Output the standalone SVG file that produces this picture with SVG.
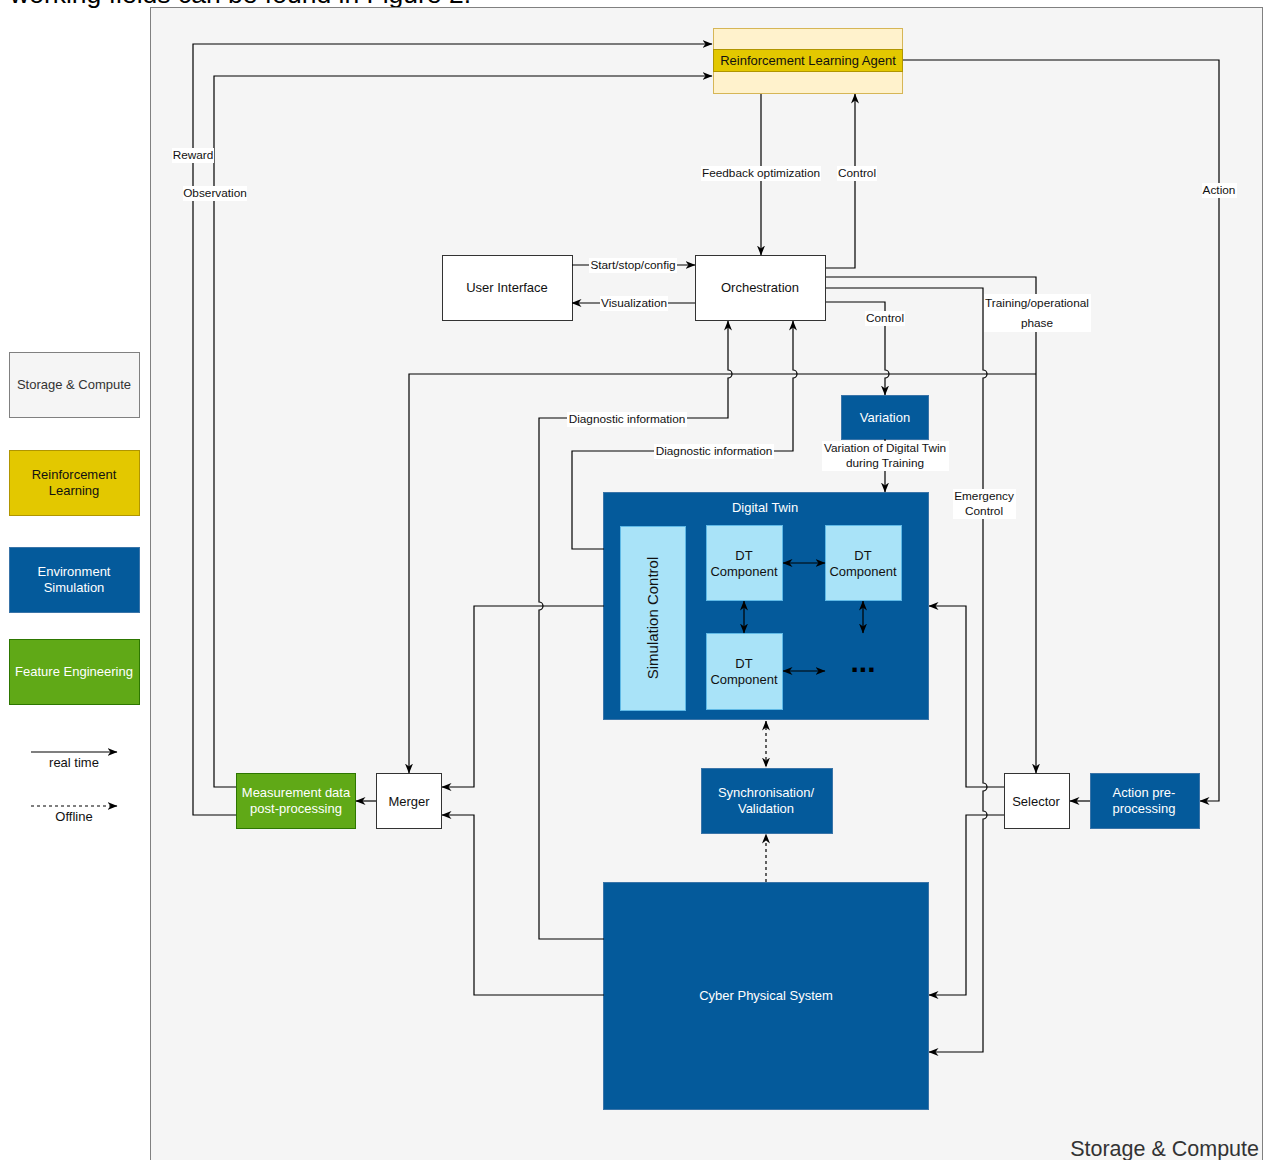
<svg xmlns="http://www.w3.org/2000/svg" width="1265" height="1160" viewBox="0 0 1265 1160">
<defs>
<style>
text{font-family:"Liberation Sans",Arial,Helvetica,sans-serif;text-anchor:middle;fill:#111}
.n{font-size:13px}
.e{font-size:11.8px}
.w{fill:#fff}
.ln{fill:none;stroke:#000;stroke-width:1.2}
.da{stroke-dasharray:3 3}
.lbl{fill:#fff}
.env{fill:#045a9b;stroke:#3a74a8;stroke-width:1}
.lt{fill:#a9e3f8;stroke:#5fb9e6;stroke-width:1}
.wb{fill:#fff;stroke:#333;stroke-width:1}
.grn{fill:#60a917;stroke:#2d7600;stroke-width:1}
.yel{fill:#e3c800;stroke:#b09500;stroke-width:1}
</style>
<marker id="ah" viewBox="0 0 10 10" refX="9.5" refY="5" markerWidth="10" markerHeight="10" markerUnits="userSpaceOnUse" orient="auto-start-reverse">
<path d="M0,1 L10,5 L0,9 L3,5 z" fill="#000"/>
</marker>
</defs>

<rect x="0" y="0" width="1265" height="1160" fill="#fff"/>
<text x="10" y="3" style="font-size:26.5px;text-anchor:start;fill:#000">working fields can be found in Figure 2.</text>

<!-- storage & compute container -->
<g id="storage-compute">
<rect x="150.5" y="7.5" width="1112" height="1170" fill="#f5f5f5" stroke="#808080" stroke-width="1"/>
<text x="1259" y="1156" style="font-size:21.5px;text-anchor:end;fill:#333">Storage &amp; Compute</text>
</g>

<!-- legend -->
<g id="legend">
<rect x="9.5" y="352.5" width="130" height="65" fill="#f5f5f5" stroke="#808080"/>
<text class="n" x="74" y="388.5" style="fill:#333">Storage &amp; Compute</text>
<rect class="yel" x="9.5" y="450.5" width="130" height="65"/>
<text class="n" x="74" y="478.5">Reinforcement</text>
<text class="n" x="74" y="494.5">Learning</text>
<rect class="env" x="9.5" y="547.5" width="130" height="65"/>
<text class="n w" x="74" y="575.5">Environment</text>
<text class="n w" x="74" y="591.5">Simulation</text>
<rect class="grn" x="9.5" y="639.5" width="130" height="65"/>
<text class="n w" x="74" y="675.5">Feature Engineering</text>
<path class="ln" d="M31,752 L117,752" marker-end="url(#ah)"/>
<text class="n" x="74" y="767">real time</text>
<path class="ln da" d="M31,806 L117,806" marker-end="url(#ah)"/>
<text class="n" x="74" y="821">Offline</text>
</g>

<!-- nodes -->
<g id="rl-agent">
<rect x="713.5" y="28.5" width="189" height="65" fill="#fff2cc" stroke="#d6b656"/>
<rect class="yel" x="713.5" y="49.5" width="189" height="22"/>
<text class="n" x="808" y="64.5">Reinforcement Learning Agent</text>
</g>
<g id="user-interface">
<rect class="wb" x="442.5" y="255.5" width="130" height="65"/>
<text class="n" x="507" y="291.5">User Interface</text>
</g>
<g id="orchestration">
<rect class="wb" x="695.5" y="255.5" width="130" height="65"/>
<text class="n" x="760" y="291.5">Orchestration</text>
</g>
<g id="variation">
<rect class="env" x="841.5" y="395.5" width="87" height="44"/>
<text class="n w" x="885" y="421.5">Variation</text>
</g>
<g id="digital-twin">
<rect class="env" x="603.5" y="492.5" width="325" height="227"/>
<text class="n w" x="765" y="511.5">Digital Twin</text>
</g>
<g id="simulation-control">
<rect class="lt" x="620.5" y="526.5" width="65" height="184"/>
<text x="658" y="618" transform="rotate(-90 658 618)" style="font-size:15px">Simulation Control</text>
</g>
<g id="dt-component-1">
<rect class="lt" x="706.5" y="525.5" width="76" height="75"/>
<text class="n" x="744" y="559.5">DT</text>
<text class="n" x="744" y="575.5">Component</text>
</g>
<g id="dt-component-2">
<rect class="lt" x="825.5" y="525.5" width="76" height="75"/>
<text class="n" x="863" y="559.5">DT</text>
<text class="n" x="863" y="575.5">Component</text>
</g>
<g id="dt-component-3">
<rect class="lt" x="706.5" y="633.5" width="76" height="76"/>
<text class="n" x="744" y="667.5">DT</text>
<text class="n" x="744" y="683.5">Component</text>
</g>
<g id="more-components">
<text x="863" y="672" style="font-size:30px;font-weight:bold;fill:#000">...</text>
</g>
<g id="sync-validation">
<rect class="env" x="701.5" y="768.5" width="131" height="65"/>
<text class="n w" x="766" y="797">Synchronisation/</text>
<text class="n w" x="766" y="813">Validation</text>
</g>
<g id="cyber-physical-system">
<rect class="env" x="603.5" y="882.5" width="325" height="227"/>
<text class="n w" x="766" y="999.5">Cyber Physical System</text>
</g>
<g id="merger">
<rect class="wb" x="376.5" y="773.5" width="65" height="55"/>
<text class="n" x="409" y="805.5">Merger</text>
</g>
<g id="measurement-post-processing">
<rect class="grn" x="236.5" y="773.5" width="119" height="55"/>
<text class="n w" x="296" y="797">Measurement data</text>
<text class="n w" x="296" y="813">post-processing</text>
</g>
<g id="selector">
<rect class="wb" x="1004.5" y="773.5" width="65" height="55"/>
<text class="n" x="1036" y="805.5">Selector</text>
</g>
<g id="action-pre-processing">
<rect class="env" x="1090.5" y="773.5" width="109" height="55"/>
<text class="n w" x="1144" y="797">Action pre-</text>
<text class="n w" x="1144" y="813">processing</text>
</g>

<!-- connectors -->
<g id="connectors">
<path class="ln" d="M236,815 L193,815 L193,44 L712,44" marker-end="url(#ah)"/>
<path class="ln" d="M236,787 L214,787 L214,76 L712,76" marker-end="url(#ah)"/>
<path class="ln" d="M761,94 L761,255" marker-end="url(#ah)"/>
<path class="ln" d="M826,268 L855,268 L855,94" marker-end="url(#ah)"/>
<path class="ln" d="M903,60 L1219,60 L1219,801 L1200,801" marker-end="url(#ah)"/>
<path class="ln" d="M572,265 L695,265" marker-end="url(#ah)"/>
<path class="ln" d="M695,303 L572,303" marker-end="url(#ah)"/>
<path class="ln" d="M826,277 L1036,277 L1036,773" marker-end="url(#ah)"/>
<path class="ln" d="M1036,374 L409,374 L409,773" marker-end="url(#ah)"/>
<path class="ln" d="M826,288 L983,288 L983,370 A4,4 0 0 1 983,378 L983,783 A4,4 0 0 1 983,791 L983,811 A4,4 0 0 1 983,819 L983,1052 L929,1052" marker-end="url(#ah)"/>
<path class="ln" d="M826,302 L885,302 L885,370 A4,4 0 0 1 885,378 L885,395" marker-end="url(#ah)"/>
<path class="ln" d="M885,439 L885,492" marker-end="url(#ah)"/>
<path class="ln" d="M604,939 L539,939 L539,610 A4,4 0 0 0 539,602 L539,418 L728,418 L728,378 A4,4 0 0 0 728,370 L728,321" marker-end="url(#ah)"/>
<path class="ln" d="M604,549 L572,549 L572,451 L793,451 L793,378 A4,4 0 0 0 793,370 L793,321" marker-end="url(#ah)"/>
<path class="ln" d="M604,606 L474,606 L474,787 L442,787" marker-end="url(#ah)"/>
<path class="ln" d="M604,995 L474,995 L474,815 L442,815" marker-end="url(#ah)"/>
<path class="ln" d="M376,801 L356,801" marker-end="url(#ah)"/>
<path class="ln" d="M1090,801 L1070,801" marker-end="url(#ah)"/>
<path class="ln" d="M1004,787 L966,787 L966,606 L929,606" marker-end="url(#ah)"/>
<path class="ln" d="M1004,815 L966,815 L966,995 L929,995" marker-end="url(#ah)"/>
<path class="ln da" d="M766,721 L766,767" marker-start="url(#ah)" marker-end="url(#ah)"/>
<path class="ln da" d="M766,882 L766,834" marker-end="url(#ah)"/>
<path class="ln" d="M783,563 L825,563" marker-start="url(#ah)" marker-end="url(#ah)"/>
<path class="ln" d="M744,601 L744,633" marker-start="url(#ah)" marker-end="url(#ah)"/>
<path class="ln" d="M863,601 L863,633" marker-start="url(#ah)" marker-end="url(#ah)"/>
<path class="ln" d="M783,671 L825,671" marker-start="url(#ah)" marker-end="url(#ah)"/>

<!-- edge labels -->
<rect class="lbl" x="172" y="148" width="42" height="15"/>
<text class="e" x="193" y="159">Reward</text>
<rect class="lbl" x="183" y="186" width="64" height="15"/>
<text class="e" x="215" y="197">Observation</text>
<rect class="lbl" x="701" y="166" width="120" height="15"/>
<text class="e" x="761" y="177">Feedback optimization</text>
<rect class="lbl" x="837" y="166" width="40" height="15"/>
<text class="e" x="857" y="177">Control</text>
<rect class="lbl" x="1202" y="183" width="35" height="15"/>
<text class="e" x="1219" y="194">Action</text>
<rect class="lbl" x="589" y="258" width="88" height="15"/>
<text class="e" x="633" y="269">Start/stop/config</text>
<rect class="lbl" x="600" y="296" width="68" height="15"/>
<text class="e" x="634" y="307">Visualization</text>
<rect class="lbl" x="984" y="294" width="107" height="38"/>
<text class="e" x="1037" y="307">Training/operational</text>
<text class="e" x="1037" y="327">phase</text>
<rect class="lbl" x="865" y="311" width="40" height="15"/>
<text class="e" x="885" y="322">Control</text>
<rect class="lbl" x="567" y="412" width="120" height="15"/>
<text class="e" x="627" y="423">Diagnostic information</text>
<rect class="lbl" x="654" y="444" width="120" height="15"/>
<text class="e" x="714" y="455">Diagnostic information</text>
<rect class="lbl" x="822" y="441" width="127" height="30"/>
<text class="e" x="885" y="452">Variation of Digital Twin</text>
<text class="e" x="885" y="467">during Training</text>
<rect class="lbl" x="953" y="489" width="63" height="30"/>
<text class="e" x="984" y="500">Emergency</text>
<text class="e" x="984" y="515">Control</text>
</g>
</svg>
